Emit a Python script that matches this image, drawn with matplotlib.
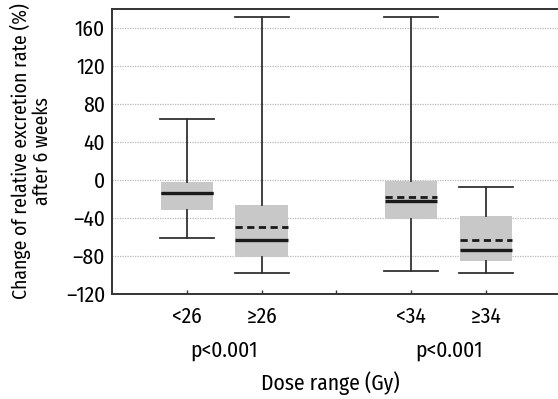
import matplotlib
matplotlib.use("Agg")
import matplotlib.pyplot as plt

plt.rcParams['font.family'] = ['Fira Sans Condensed', 'PT Sans Narrow', 'Archivo Narrow', 'DejaVu Sans']

categories = ["<26", "\u226526", "<34", "\u226534"]
positions = [1, 2, 4, 5]
whisker_low = [-61, -98, -96, -98]
q1 = [-32, -82, -41, -86]
median = [-14, -64, -22, -74]
mean = [-14, -50, -18, -64]
q3 = [-2, -27, -1, -38]
whisker_high = [64, 172, 172, -8]
p_values = ["p<0.001", "p<0.001"]
p_positions = [1.5, 4.5]
yticks = [-120, -80, -40, 0, 40, 80, 120, 160]

stats = []
for i in range(len(categories)):
    stats.append(dict(label=categories[i], whislo=whisker_low[i], q1=q1[i],
                      med=median[i], mean=mean[i], q3=q3[i], whishi=whisker_high[i],
                      fliers=[]))

FS = 15.5

fig = plt.figure(figsize=(5.58, 3.99), dpi=100)
ax = fig.add_axes([112/558, 1-293.5/399, 1-112/558, (293.5-9)/399])

ax.bxp(stats, positions=positions, widths=0.7, patch_artist=True,
       showmeans=True, meanline=True, capwidths=0.72,
       boxprops=dict(facecolor='#c8c8c8', edgecolor='none', linewidth=0),
       whiskerprops=dict(color='#333333', linewidth=1.3),
       capprops=dict(color='#333333', linewidth=1.3),
       medianprops=dict(color='#1a1a1a', linewidth=2.4, solid_capstyle='butt'),
       meanprops=dict(color='#1a1a1a', linewidth=2.0, linestyle=(0, (2.6, 1.6))),
       zorder=3)

ax.set_xlim(0, (558-112)/74.8)
ax.set_ylim(-120, 180)
ax.set_yticks(yticks)
ax.set_yticklabels([str(v).replace('-', '\u2013') for v in yticks])
ax.set_xticks([1, 2, 3, 4, 5])
ax.set_xticklabels([categories[0], categories[1], "", categories[2], categories[3]])
ax.tick_params(axis='x', direction='in', length=3, width=1, color='#333333',
               labelsize=FS, pad=9)
ax.tick_params(axis='y', direction='out', length=0, labelsize=FS, pad=5)
ax.yaxis.grid(True, color='#b8b8b8', linestyle=(0, (1, 1)), linewidth=0.9, zorder=0)
ax.set_axisbelow(True)

for s in ['left', 'bottom', 'top']:
    ax.spines[s].set_color('#333333')
    ax.spines[s].set_linewidth(1.4)
ax.spines['right'].set_visible(False)

for p, txt in zip(p_positions, p_values):
    ax.annotate(txt, xy=(p, 0), xycoords=ax.get_xaxis_transform(),
                xytext=(0, -56.5 * 72 / 100), textcoords='offset points',
                ha='center', va='center', fontsize=FS)

ax.set_ylabel("Change of relative excretion rate (%)\nafter 6 weeks", fontsize=14.2,
              linespacing=1.05)
ax.yaxis.set_label_coords((31 - 112) / 446, 0.5)
ax.yaxis.label.set_va('center')
ax.set_xlabel("Dose range (Gy)", fontsize=FS)
ax.xaxis.set_label_coords(0.49, -89.5 / 284.5)
ax.xaxis.label.set_va('center')

fig.savefig("out.png", dpi=100)
